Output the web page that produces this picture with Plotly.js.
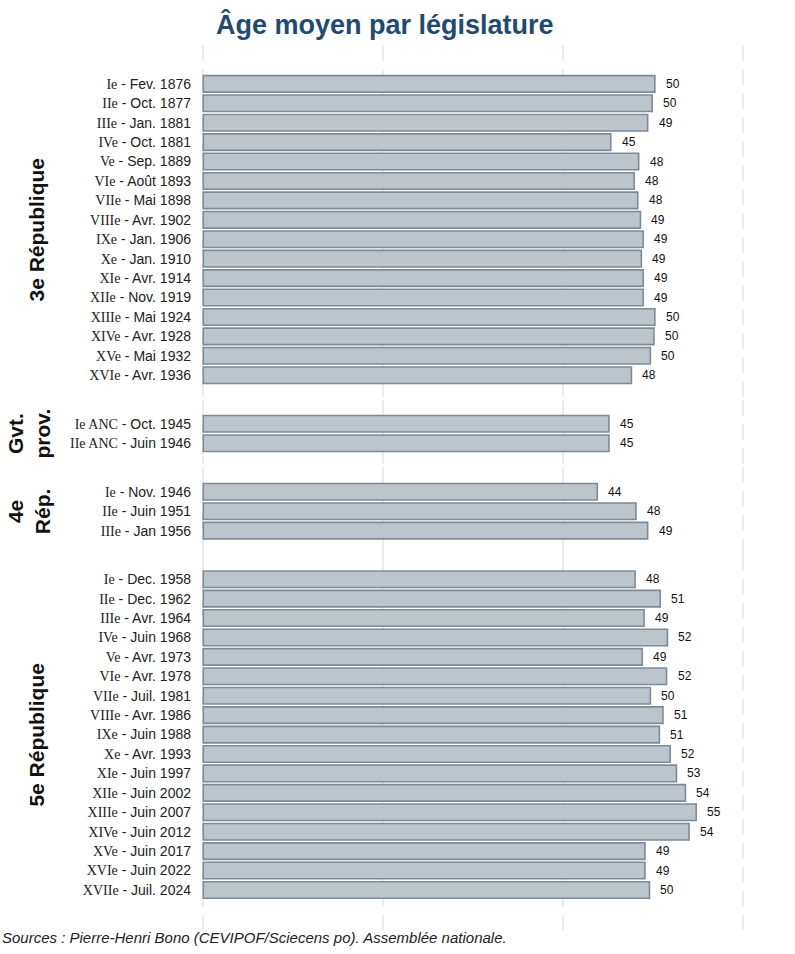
<!DOCTYPE html>
<html>
<head>
<meta charset="utf-8">
<script src="https://cdn.plot.ly/plotly-3.0.1.min.js"></script>
<style>
  html, body { margin: 0; padding: 0; background: #ffffff; }
  #chart { width: 795px; height: 954px; }
</style>
</head>
<body>
<div id="chart"></div>
<script>
// Average age of deputies per legislature, grouped by regime
const regimeLabels = ['3e République', 'Gvt.<br>prov.', '4e<br>Rép.', '5e République'];

const legislatures3R = [
  'Ie - Fev. 1876', 'IIe - Oct. 1877', 'IIIe - Jan. 1881', 'IVe - Oct. 1881',
  'Ve - Sep. 1889', 'VIe - Août 1893', 'VIIe - Mai 1898', 'VIIIe - Avr. 1902',
  'IXe - Jan. 1906', 'Xe - Jan. 1910', 'XIe - Avr. 1914', 'XIIe - Nov. 1919',
  'XIIIe - Mai 1924', 'XIVe - Avr. 1928', 'XVe - Mai 1932', 'XVIe - Avr. 1936'
];
const ages3R = [50.2, 49.9, 49.4, 45.3, 48.4, 47.9, 48.3, 48.6, 48.9, 48.7, 48.9, 48.9, 50.2, 50.1, 49.7, 47.6];

const legislaturesGP = ['Ie ANC - Oct. 1945', 'IIe ANC - Juin 1946'];
const agesGP = [45.1, 45.1];

const legislatures4R = ['Ie - Nov. 1946', 'IIe - Juin 1951', 'IIIe - Jan 1956'];
const ages4R = [43.8, 48.1, 49.4];

const legislatures5R = [
  'Ie - Dec. 1958', 'IIe - Dec. 1962', 'IIIe - Avr. 1964', 'IVe - Juin 1968',
  'Ve - Avr. 1973', 'VIe - Avr. 1978', 'VIIe - Juil. 1981', 'VIIIe - Avr. 1986',
  'IXe - Juin 1988', 'Xe - Avr. 1993', 'XIe - Juin 1997', 'XIIe - Juin 2002',
  'XIIIe - Juin 2007', 'XIVe - Juin 2012', 'XVe - Juin 2017', 'XVIe - Juin 2022',
  'XVIIe - Juil. 2024'
];
const ages5R = [48.0, 50.8, 49.0, 51.6, 48.8, 51.5, 49.7, 51.1, 50.7, 51.9, 52.6, 53.6, 54.8, 54.0, 49.1, 49.1, 49.6];

const sourceNote = 'Sources : Pierre-Henri Bono (CEVIPOF/Sciecens po). Assemblée nationale.';

const panels = [
  { label: regimeLabels[0], cats: legislatures3R, vals: ages3R },
  { label: regimeLabels[1], cats: legislaturesGP, vals: agesGP },
  { label: regimeLabels[2], cats: legislatures4R, vals: ages4R },
  { label: regimeLabels[3], cats: legislatures5R, vals: ages5R }
];

// ---- styling ----
const SANS = 'Liberation Sans, Arial, sans-serif';
const SERIF = 'Liberation Serif, Times New Roman, serif';
const BAR_FILL = '#bcc4cc';
const BAR_EDGE = '#7d8a98';
const GRID = '#ebebeb';

// Plot box: left edge slightly before zero so the zero gridline stays visible
const MARGIN_L = 201, MARGIN_R = 16, MARGIN_T = 45, MARGIN_B = 24;
const X_RANGE = [-0.25, 64];

// Vertical space of each facet in row units (outer and inner padding)
const padOuterTop = 1.5, padOuterBottom = 1.56, padInner = 0.75;
let totalUnits = 0;
panels.forEach((p, i) => {
  p.padTop = i === 0 ? padOuterTop : padInner;
  p.padBot = i === panels.length - 1 ? padOuterBottom : padInner;
  p.units = p.padTop + p.cats.length + p.padBot;
  totalUnits += p.units;
});
let cursor = 1;
panels.forEach(p => {
  const h = p.units / totalUnits;
  p.domain = [Math.max(0, cursor - h), Math.min(1, cursor)];
  cursor -= h;
});

// Roman-numeral part of each legislature name in a serif face
function tickLabel(name) {
  const cut = name.indexOf(' - ');
  const head = name.slice(0, cut);
  const tail = name.slice(cut);
  return '<span style="font-family:' + SERIF + '">' + head + '</span>' + tail;
}

const plotW = 795 - MARGIN_L - MARGIN_R;
const pxToPaperX = px => (px - MARGIN_L) / plotW;

const data = [];
const annotations = [];
const layout = {
  width: 795,
  height: 954,
  margin: { l: MARGIN_L, r: MARGIN_R, t: MARGIN_T, b: MARGIN_B },
  paper_bgcolor: '#ffffff',
  plot_bgcolor: '#ffffff',
  showlegend: false,
  font: { family: SANS, color: '#222222' },
  title: {
    text: 'Âge moyen par législature',
    font: { family: SANS, size: 27, weight: 700, color: '#1f4a72' },
    xref: 'container', yref: 'container',
    x: 0.484, xanchor: 'center',
    y: 0.974, yanchor: 'middle'
  }
};

panels.forEach((p, i) => {
  const k = i === 0 ? '' : String(i + 1);
  const xName = 'xaxis' + k, yName = 'yaxis' + k;

  data.push({
    type: 'bar',
    orientation: 'h',
    x: p.vals,
    y: p.cats,
    xaxis: 'x' + k,
    yaxis: 'y' + k,
    width: 0.85,
    marker: { color: BAR_FILL, line: { color: BAR_EDGE, width: 1.6 } },
    hoverinfo: 'x+y'
  });

  layout[xName] = {
    anchor: 'y' + k,
    domain: [0, 1],
    range: X_RANGE,
    tickmode: 'array',
    tickvals: [0, 20, 40, 60],
    showticklabels: false,
    ticks: '',
    showgrid: true,
    gridcolor: GRID,
    gridwidth: 2,
    griddash: '16px,8px',
    zeroline: false,
    showline: false,
    fixedrange: true
  };
  if (k) layout[xName].matches = 'x';

  layout[yName] = {
    anchor: 'x' + k,
    domain: p.domain,
    type: 'category',
    categoryorder: 'array',
    categoryarray: p.cats,
    range: [p.cats.length - 0.5 + p.padBot, -0.5 - p.padTop],
    tickmode: 'array',
    tickvals: p.cats,
    ticktext: p.cats.map(tickLabel),
    tickfont: { family: SANS, size: 14, color: '#222222' },
    ticks: '',
    ticklabelstandoff: 9,
    showgrid: false,
    zeroline: false,
    showline: false,
    fixedrange: true
  };

  // value labels next to each bar
  p.cats.forEach((c, j) => {
    annotations.push({
      xref: 'x' + k, yref: 'y' + k,
      x: p.vals[j], y: c,
      text: String(Math.round(p.vals[j])),
      xanchor: 'left', yanchor: 'middle',
      xshift: 9,
      showarrow: false,
      font: { family: SANS, size: 12, color: '#111111' }
    });
  });

  // regime label, rotated, to the left of the facet
  const twoLines = p.label.indexOf('<br>') >= 0;
  annotations.push({
    xref: 'paper', yref: 'y' + k,
    x: pxToPaperX(twoLines ? 29 : 37),
    y: (p.cats.length - 1) / 2,
    text: '<b>' + p.label + '</b>',
    textangle: -90,
    xanchor: 'center', yanchor: 'middle',
    showarrow: false,
    font: { family: SANS, size: 21, color: '#111111' }
  });
});

annotations.push({
  xref: 'paper', yref: 'paper',
  x: pxToPaperX(0), y: -0.009,
  xanchor: 'left', yanchor: 'middle',
  text: '<i>' + sourceNote + '</i>',
  showarrow: false,
  font: { family: SANS, size: 15, color: '#222222' }
});

layout.annotations = annotations;

Plotly.newPlot('chart', data, layout, { displayModeBar: false, staticPlot: true });
</script>
</body>
</html>
